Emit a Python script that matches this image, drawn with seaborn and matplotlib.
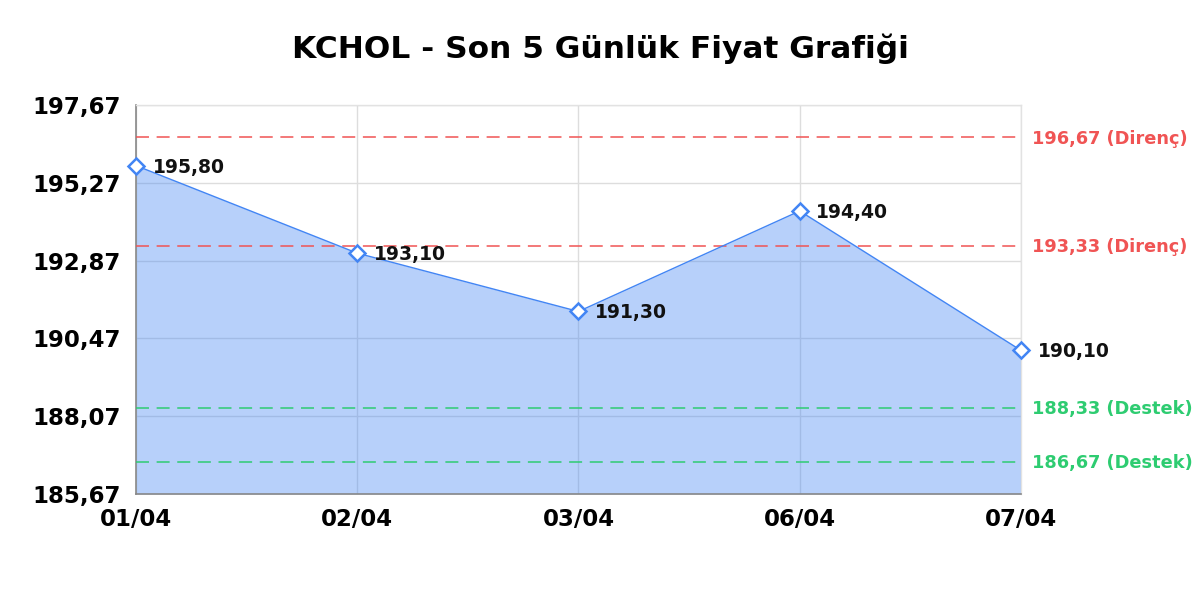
import matplotlib
matplotlib.use("Agg")
import matplotlib.pyplot as plt
import seaborn as sns
import pandas as pd

dates = ["01/04", "02/04", "03/04", "06/04", "07/04"]
prices = [195.80, 193.10, 191.30, 194.40, 190.10]
resistance = [196.67, 193.33]
support = [188.33, 186.67]
y_ticks = [185.67, 188.07, 190.47, 192.87, 195.27, 197.67]
title = "KCHOL - Son 5 Günlük Fiyat Grafiği"

sns.set_theme(style="white")
plt.rcParams['font.family'] = ['DejaVu Sans']
FAM = ['DejaVu Sans']

df = pd.DataFrame({"x": range(len(dates)), "price": prices})

fig = plt.figure(figsize=(12, 6), dpi=100)
ax = fig.add_axes([0.1133, 0.1767, 0.7375, 0.6483])

blue = "#4285f4"
ax.fill_between(df["x"], df["price"], y_ticks[0], color=blue, alpha=0.38, linewidth=0, zorder=1)
sns.lineplot(data=df, x="x", y="price", ax=ax, color=blue, linewidth=1.0,
             marker="D", markersize=8, markerfacecolor="white",
             markeredgecolor=blue, markeredgewidth=1.8, zorder=4, clip_on=False)

for xi, p in zip(df["x"], prices):
    ax.annotate(f"{p:.2f}".replace(".", ","), (xi, p), xytext=(12, -1),
                textcoords="offset points", va="center", ha="left", family=FAM,
                fontsize=13.5, fontweight="bold", color="#111111", zorder=5)

red = "#f05454"
green = "#2ecc71"
dash = (0, (8.5, 5))
for r in resistance:
    ax.axhline(r, color=red, linestyle=dash, linewidth=1.1, zorder=3)
    ax.annotate(f"{r:.2f}".replace(".", ",") + " (Direnç)", (1, r),
                xycoords=("axes fraction", "data"), xytext=(8, -1), family=FAM,
                textcoords="offset points", va="center", ha="left",
                fontsize=12.8, fontweight="bold", color=red, annotation_clip=False)
for s in support:
    ax.axhline(s, color=green, linestyle=dash, linewidth=1.1, zorder=3)
    ax.annotate(f"{s:.2f}".replace(".", ",") + " (Destek)", (1, s),
                xycoords=("axes fraction", "data"), xytext=(8, -1), family=FAM,
                textcoords="offset points", va="center", ha="left",
                fontsize=12.8, fontweight="bold", color=green, annotation_clip=False)

ax.set_xlim(0, len(dates) - 1)
ax.set_ylim(y_ticks[0], y_ticks[-1])
ax.set_xticks(range(len(dates)))
ax.set_xticklabels(dates, fontsize=16.5, fontweight="bold", color="black", family=FAM)
ax.set_yticks(y_ticks)
ax.set_yticklabels([f"{t:.2f}".replace(".", ",") for t in y_ticks],
                   fontsize=16.5, fontweight="bold", color="black", family=FAM)
ax.tick_params(axis="x", length=0, pad=10)
ax.tick_params(axis="y", length=0, pad=11)
ax.set_xlabel("")
ax.set_ylabel("")
ax.grid(True, color="#dddddd", linewidth=1.0, zorder=0)
ax.set_axisbelow(True)
for side in ["top", "right"]:
    ax.spines[side].set_color("#e2e2e2")
    ax.spines[side].set_linewidth(1.0)
for side in ["left", "bottom"]:
    ax.spines[side].set_color("#888888")
    ax.spines[side].set_linewidth(1.2)

fig.suptitle(title, x=0.5, y=0.945, fontsize=22.5, fontweight="bold", color="black", family=FAM)

fig.savefig("out.png", dpi=100)
